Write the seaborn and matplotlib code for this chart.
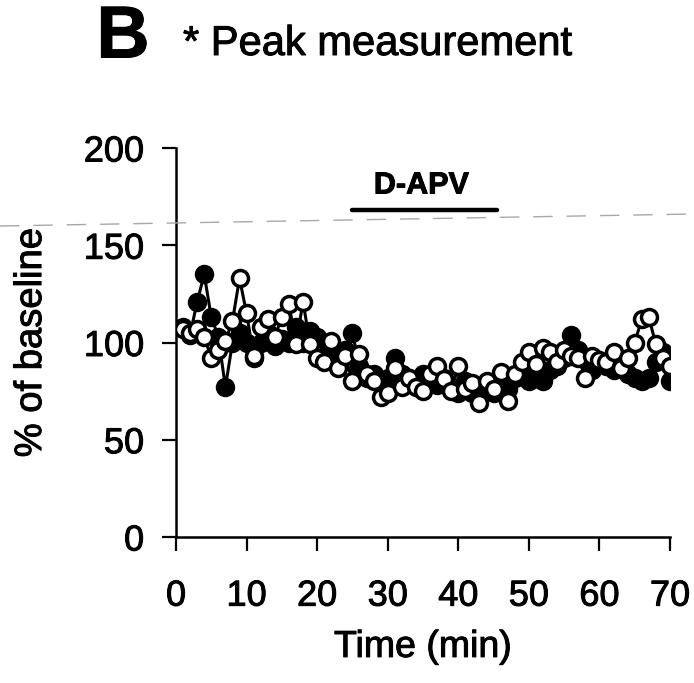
import matplotlib
matplotlib.use("Agg")
import matplotlib.pyplot as plt
import matplotlib.lines as mlines
import matplotlib.patheffects as pe
import seaborn as sns
import pandas as pd
import numpy as np

# ---- data ----
time_min = list(range(1, 71))
filled_vals = [108, 104, 121, 135, 113, 103, 77, 100, 105, 100,
               92, 100, 105, 98, 102, 100, 108, 100, 106, 103,
               92, 98, 92, 96, 105, 88, 82, 84, 80, 82,
               92, 84, 82, 80, 84, 80, 78, 82, 76, 74,
               80, 74, 76, 78, 74, 80, 76, 82, 84, 80,
               82, 80, 86, 88, 92, 104, 96, 92, 86, 90,
               88, 86, 90, 84, 82, 80, 82, 90, 95, 80]
open_vals = [107, 105, 107, 103, 92, 96, 101, 111, 133, 115,
             93, 108, 112, 103, 113, 120, 99, 121, 99, 92,
             90, 101, 87, 93, 80, 94, 84, 80, 72, 74,
             87, 77, 82, 77, 75, 84, 88, 81, 75, 88,
             76, 79, 69, 80, 76, 85, 70, 84, 90, 95,
             89, 97, 95, 90, 96, 93, 92, 82, 93, 91,
             90, 95, 87, 92, 100, 112, 113, 99, 92, 88]
drug_label = "D-APV"
drug_start, drug_end, drug_level = 25.0, 45.5, 168
x_ticks = [0, 10, 20, 30, 40, 50, 60, 70]
y_ticks = [0, 50, 100, 150, 200]

df = pd.DataFrame({"time": time_min, "filled": filled_vals, "open": open_vals})

sns.set_style("ticks")
plt.rcParams["font.family"] = ["Liberation Sans", "DejaVu Sans"]
plt.rcParams["text.color"] = "black"
plt.rcParams["axes.labelcolor"] = "black"

thick = [pe.withStroke(linewidth=0.7, foreground="black")]

fig = plt.figure(figsize=(6.94, 6.83), dpi=100)
ax = fig.add_axes([176 / 694, 1 - 537 / 683, (670 - 176) / 694, (537 - 148) / 683])

sns.lineplot(data=df, x="time", y="filled", ax=ax, color="black", lw=2.2,
             marker="o", markersize=11.5, markerfacecolor="black",
             markeredgecolor="black", markeredgewidth=2.5, zorder=3)
sns.lineplot(data=df, x="time", y="open", ax=ax, color="black", lw=2.2,
             marker="o", markersize=11.5, markerfacecolor="white",
             markeredgecolor="black", markeredgewidth=2.5, zorder=4)

ax.plot([drug_start, drug_end], [drug_level, drug_level], color="black",
        lw=3.2, solid_capstyle="round", clip_on=False)
ax.text((drug_start + drug_end) / 2 - 0.5, drug_level + 5, drug_label, ha="center",
        va="bottom", fontsize=22, fontweight="bold", path_effects=thick)

ax.set_xlim(0, 70)
ax.set_ylim(0, 200)
ax.set_xticks(x_ticks)
ax.set_yticks(y_ticks)
ax.tick_params(axis="both", direction="out", length=10, width=1.6,
               labelsize=26, color="black", labelcolor="black")
ax.tick_params(axis="y", pad=13)
ax.tick_params(axis="x", pad=20)
for lab in ax.get_xticklabels() + ax.get_yticklabels():
    lab.set_path_effects(thick)
for s in ["left", "bottom"]:
    ax.spines[s].set_linewidth(1.8)
    ax.spines[s].set_color("black")
sns.despine(ax=ax)
ax.set_xlabel("Time (min)", fontsize=27, labelpad=11, path_effects=thick)
ax.set_ylabel("% of baseline", fontsize=27.5, labelpad=25, path_effects=thick)

fig.text(123 / 694, 1 - 38 / 683, "B", ha="center", va="center",
         fontsize=53, fontweight="bold", path_effects=thick)
fig.text(183 / 694, 1 - 55 / 683, "* Peak measurement", ha="left",
         va="baseline", fontsize=30, path_effects=thick)

fig.add_artist(mlines.Line2D([0, 1], [1 - 226 / 683, 1 - 214 / 683],
                             transform=fig.transFigure, color="#a8a8a8",
                             lw=1, dashes=(14, 10)))

fig.savefig("out.png", dpi=100, facecolor="white")
